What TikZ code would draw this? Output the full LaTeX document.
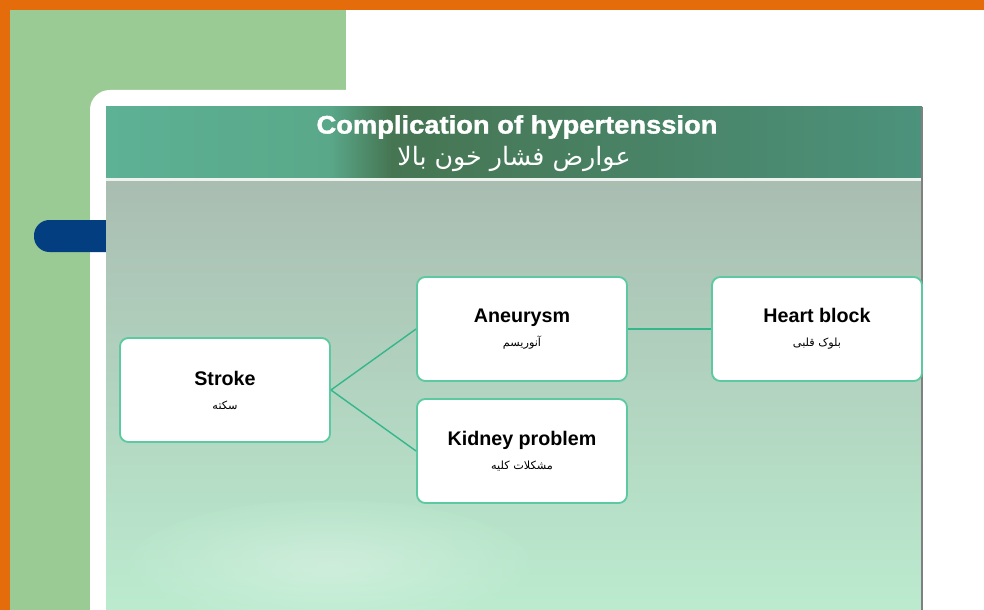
\documentclass[tikz,border=0pt]{standalone}
\usepackage{fontspec}
\setmainfont{Liberation Sans}
\newfontfamily\titlefont[FakeStretch=1.08,FakeBold=1.5]{Liberation Sans}
\newfontfamily\fafont[Script=Arabic]{DejaVu Sans}
\TeXXeTstate=1
\definecolor{orangeband}{HTML}{E46C0A}
\definecolor{sidegreen}{HTML}{9BCB95}
\definecolor{pillblue}{HTML}{033E80}
\definecolor{bandteal}{HTML}{5DB194}
\definecolor{banddark}{HTML}{467552}
\definecolor{bandright}{HTML}{4C927C}
\definecolor{bodytop}{HTML}{A9BDB1}
\definecolor{bodybottom}{HTML}{BBEBCF}
\definecolor{boxline}{HTML}{5CC9A1}
\definecolor{linkline}{HTML}{35B68B}
\begin{document}
\begin{tikzpicture}[x=0.025cm,y=-0.025cm,
  issue/.style={draw=boxline,line width=1.3pt,fill=white,rounded corners=6pt,
    minimum width=5.25cm,minimum height=2.6cm,align=center,inner sep=0pt,
    font=\fontsize{14}{17}\selectfont\bfseries},
  link/.style={draw=linkline,line width=1pt}]
\newcommand\fatext[1]{{\fafont\mdseries\fontsize{8}{10}\selectfont\beginR #1\endR}}
\useasboundingbox (0,0) rectangle (984,610);
% frame
\fill[white] (0,0) rectangle (984,610);
\fill[sidegreen] (10,10) rectangle (346,610);
\fill[white,rounded corners=14pt] (90,90) rectangle (1000,640);
\fill[orangeband] (0,0) rectangle (984,10);
\fill[orangeband] (0,0) rectangle (10,610);
\fill[pillblue,rounded corners=11pt] (34,220) rectangle (130,252);
%
\shade[top color=bodytop,bottom color=bodybottom] (106,179) rectangle (922,610);
\shade[inner color=white,outer color=bodybottom,opacity=0.3] (330,565) ellipse (200 and 65);
\shade[left color=bandteal,right color=bandteal!85!banddark] (106,107) rectangle (330,178);
\shade[left color=bandteal!85!banddark,right color=banddark] (329,107) rectangle (392,178);
\shade[left color=banddark,right color=bandright] (391,107) rectangle (922,178);
\draw[white!80!bodytop,line width=1.5pt] (106,179.5) -- (922,179.5);
\draw[gray,line width=0.8pt] (922,107) -- (922,610);
%
\node[text=white] (title) at (517,127) {\titlefont\fontsize{18}{20}\selectfont\bfseries Complication of hypertenssion};
\node[text=white] (titlefa) at (514,159) {\fafont\fontsize{18}{20}\selectfont\beginR عوارض فشار خون بالا\endR};
%
\node[issue] (stroke) at (225,390) {Stroke\\\fatext{سکته}};
\node[issue] (aneurysm) at (522,329) {Aneurysm\\\fatext{آنوریسم}};
\node[issue] (kidney) at (522,451) {Kidney problem\\\fatext{مشکلات کلیه}};
\node[issue] (heart) at (817,329) {Heart block\\\fatext{بلوک قلبی}};
%
\draw[link] (stroke.east) -- (aneurysm.west);
\draw[link] (stroke.east) -- (kidney.west);
\draw[link] (aneurysm.east) -- (heart.west);
\end{tikzpicture}
\end{document}
